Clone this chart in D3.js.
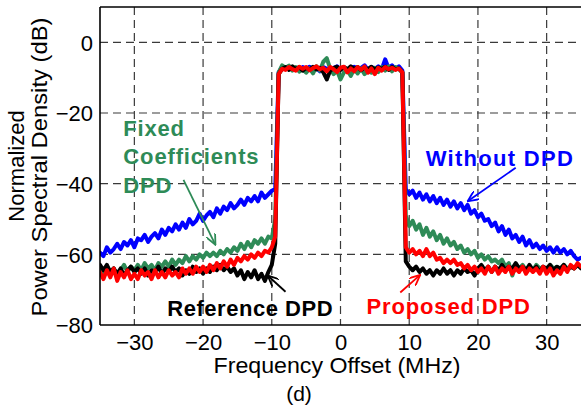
<!DOCTYPE html>
<html>
<head>
<meta charset="utf-8">
<script src="https://cdn.jsdelivr.net/npm/d3@7"></script>
<style>
  html, body { margin: 0; padding: 0; background: #fff; }
  svg { display: block; }
  text { font-family: "Liberation Sans", Arial, Helvetica, sans-serif; }
</style>
</head>
<body>
<svg id="chart" width="581" height="407"></svg>
<script>
// ---------------- data ----------------
// frequency grid (MHz), 0.5 MHz spacing from -35 to 35
const freqStart = -35, freqStep = 0.5;

const xTicks = [-30, -20, -10, 0, 10, 20, 30];
const yTicks = [-80, -60, -40, -20, 0];

// Without DPD (blue)
const blueLower = [-59.5,-60.5,-58,-59.5,-58.5,-57,-58.5,-56.5,-57.5,-56,
  -58,-55.5,-56,-54.5,-56.5,-55,-54,-55.5,-53,-54.5,
  -52.5,-53.5,-51.5,-53,-51,-52.5,-50,-51.5,-50.5,-48.5,
  -50.5,-49,-48,-49.5,-47,-48.5,-46.5,-47.5,-45.5,-47,
  -46,-44.5,-46,-44,-45,-43.5,-45,-42.5,-44,-43,
  -42,-41.5];
const blueBand = [-8.5,-7,-7.5,-6.8,-7.8,-7.2,-8,-7,-7.6,-6.9,
  -7.8,-7.3,-8.2,-7,-7.5,-8,-7.2,-6.8,-7.6,-7.1,
  -8,-7.4,-6.9,-7.7,-7.2,-6.5,-7.8,-7,-7.5,-6.8,
  -7.6,-4.8,-7.3,-6.5,-7.6,-6.8,-8];
const blueUpper = [-41.5,-43,-42,-44,-42.5,-44.5,-43,-45,-43.5,-45.5,
  -44,-46,-44.5,-46.5,-45,-47,-45.5,-47.5,-46,-48.5,
  -47.5,-49.5,-48.5,-50.5,-50,-52,-51,-53.5,-52,-54.5,
  -53,-55.5,-54.5,-56.5,-55,-57.5,-56,-58,-57,-58.5,
  -57.5,-59,-58,-59.5,-58,-59.5,-58.5,-60,-59,-60.5,
  -61.5,-61];

// Fixed Coefficients DPD (green)
const greenLower = [-64,-65.5,-63.5,-65,-64,-66,-64.5,-63,-65,-63.5,
  -64.5,-63,-64.5,-62.5,-64,-63,-64.5,-62.5,-63.5,-62,
  -63.5,-61.5,-63,-61.5,-62.5,-60.5,-62,-60.5,-61.5,-60,
  -61,-59.5,-60.5,-59.5,-60.5,-59,-60,-58.5,-59.5,-58,
  -59,-57,-58.5,-56.5,-58,-56,-57,-55.5,-57,-55,
  -55.5,-50];
const greenBand = [-8.5,-6.5,-7.2,-6.6,-8,-7,-8.3,-7.5,-8.6,-7.4,
  -8.8,-6.8,-8,-5.5,-4.5,-7.5,-9,-8,-10.5,-8.5,
  -7.8,-9.5,-7.6,-8.8,-7.4,-9,-7.8,-8.6,-7.2,-8.4,
  -7,-8,-6.8,-8.2,-7,-7.6,-8.5];
const greenUpper = [-49,-52,-50.5,-53,-51.5,-54.5,-52.5,-55,-53.5,-56,
  -54.5,-57,-55.5,-57.5,-56.5,-58.5,-57.5,-59.5,-58.5,-60,
  -59,-61,-60,-61.5,-60.5,-62,-61.5,-62.5,-61.5,-63.5,
  -62.5,-66,-63,-64,-63,-64.5,-63.5,-64.5,-63,-64,
  -63.5,-64.5,-63,-64,-63.5,-64.5,-63,-64,-63.5,-64,
  -63,-63.5];

// Reference DPD (black)
const blackLower = [-63,-64.5,-63,-65,-64,-65.5,-64,-66,-64.5,-63.5,
  -65,-64,-65.5,-64,-66,-64.5,-65,-63.5,-65.5,-64,
  -65,-63.5,-65,-64,-66,-64.5,-65.5,-63.5,-65,-64,
  -65.5,-64,-65,-63.5,-64.5,-63,-64.5,-63.5,-65,-64,
  -66,-64.5,-67,-65,-66.5,-64.5,-67,-65.5,-67.5,-65,
  -63,-57];
const blackBand = [-9,-7.5,-7,-7.8,-6.8,-7.6,-7,-8,-7.2,-7.8,
  -6.9,-7.7,-7.2,-8.5,-10.5,-8,-7.3,-6.9,-7.8,-7,
  -7.6,-6.8,-7.5,-7,-7.9,-7.2,-7.6,-6.9,-7.7,-7.1,
  -7.5,-6.9,-7.8,-7,-7.6,-7.4,-8.5];
const blackUpper = [-62,-63.5,-64.5,-63.5,-65,-64,-65.5,-64.5,-66,-64.5,
  -65.5,-64,-65.5,-64.5,-66,-64.5,-65.5,-64,-65,-64.5,
  -66,-64,-63,-64.5,-63.5,-65,-63.5,-64.5,-63,-64.5,
  -63.5,-64,-62.5,-64,-63.5,-64.5,-63,-64.5,-63.5,-65,
  -63.5,-64,-63,-64.5,-63.5,-64,-63,-64.5,-63.5,-64,
  -63,-64];

// Proposed DPD (red)
const redLower = [-65,-67,-64.5,-66.5,-64,-67.5,-65,-66.5,-64.5,-67,
  -65.5,-67,-64.5,-66,-65,-67,-64.5,-66.5,-65,-66.5,
  -64.5,-66,-65,-66.5,-64,-65.5,-64,-65.5,-63.5,-65,
  -63.5,-65,-63,-64.5,-62.5,-64,-62,-63.5,-61.5,-63,
  -61,-62,-60.5,-61.5,-60,-61,-59.5,-60.5,-59,-59.5,
  -58,-55];
const redBand = [-9,-7.5,-7.8,-7,-7.6,-8,-6.9,-7.5,-7,-7.9,
  -7.3,-6.8,-7.6,-7.2,-8.2,-7,-7.6,-8.4,-7.2,-6.9,
  -8.5,-7.4,-8.2,-7,-7.8,-6.8,-8.6,-7.4,-9,-7.2,
  -8,-7,-7.6,-7.2,-7.8,-7.4,-8.5];
const redUpper = [-58,-59.5,-58.5,-60,-59,-60.5,-58.5,-60.5,-59.5,-61.5,
  -61,-62.5,-61.5,-62.5,-61.5,-63,-62.5,-64,-63,-64.5,
  -63.5,-65,-64,-65.5,-63.5,-65,-63.5,-65.5,-64,-65,
  -63.5,-65.5,-64,-65,-63.5,-65.5,-64,-65,-64,-65.5,
  -63.5,-65.5,-64,-66,-64.5,-65.5,-63.5,-65,-63,-64,
  -62.5,-63.5];

const seriesNames = ["Without DPD", "Fixed Coefficients DPD", "Reference DPD", "Proposed DPD"];
const seriesColors = ["#0000ff", "#2e8b57", "#000000", "#ff0000"];

// ---------------- chart ----------------
const svg = d3.select("#chart");
const x = d3.scaleLinear().domain([-35, 35]).range([100, 581]);
const y = d3.scaleLinear().domain([-80, 10]).range([325, 7]);

const series = [
  blueLower.concat(blueBand, blueUpper),
  greenLower.concat(greenBand, greenUpper),
  blackLower.concat(blackBand, blackUpper),
  redLower.concat(redBand, redUpper)
].map((vals, i) => ({
  name: seriesNames[i],
  color: seriesColors[i],
  points: vals.map((v, j) => [freqStart + j * freqStep, v])
}));

svg.append("defs").append("clipPath").attr("id", "plotclip")
  .append("rect").attr("x", 100).attr("y", 7).attr("width", 481).attr("height", 318);

// grid
const grid = svg.append("g").attr("stroke", "#3a3a3a").attr("stroke-width", 1.2)
  .attr("stroke-dasharray", "8,5");
grid.selectAll("line.v").data(xTicks).join("line").attr("class", "v")
  .attr("x1", d => x(d)).attr("x2", d => x(d)).attr("y1", y(10)).attr("y2", y(-80));
grid.selectAll("line.h").data(yTicks.filter(d => d > -80)).join("line").attr("class", "h")
  .attr("y1", d => y(d)).attr("y2", d => y(d)).attr("x1", x(-35)).attr("x2", x(35));

// series
const line = d3.line().x(d => x(d[0])).y(d => y(d[1]));
svg.append("g").attr("clip-path", "url(#plotclip)")
  .selectAll("path").data(series).join("path")
  .attr("d", d => line(d.points))
  .attr("fill", "none").attr("stroke", d => d.color)
  .attr("stroke-width", 4).attr("stroke-linejoin", "round").attr("stroke-linecap", "round");

// axes frame
const frame = svg.append("g").attr("stroke", "#000").attr("stroke-width", 1.6);
frame.append("line").attr("x1", x(-35)).attr("x2", x(-35)).attr("y1", y(10)).attr("y2", y(-80));
frame.append("line").attr("x1", x(-35)).attr("x2", x(35)).attr("y1", y(-80)).attr("y2", y(-80));
frame.append("line").attr("x1", x(-35)).attr("x2", x(35)).attr("y1", y(10)).attr("y2", y(10));

// axes labels via d3 axes
const xAxis = d3.axisBottom(x).tickValues(xTicks).tickSize(0).tickPadding(0).tickFormat(d3.format("d"));
const gx = svg.append("g").attr("transform", `translate(0,${y(-80)})`).call(xAxis);
gx.select(".domain").remove();
gx.selectAll("text").attr("font-size", 22).attr("fill", "#000")
  .attr("font-family", "Liberation Sans, Arial, sans-serif").attr("dy", null).attr("y", 25);

const yAxis = d3.axisLeft(y).tickValues(yTicks).tickSize(0).tickPadding(7).tickFormat(d3.format("d"));
const gy = svg.append("g").attr("transform", `translate(${x(-35)},0)`).call(yAxis);
gy.select(".domain").remove();
gy.selectAll("text").attr("font-size", 22).attr("fill", "#000")
  .attr("font-family", "Liberation Sans, Arial, sans-serif").attr("dy", "0.36em");

// axis titles
svg.append("text").attr("x", 337).attr("y", 373).attr("text-anchor", "middle")
  .attr("font-size", 22).attr("textLength", 247).attr("lengthAdjust", "spacingAndGlyphs")
  .text("Frequency Offset (MHz)");
svg.append("text").attr("transform", "translate(24,166) rotate(-90)").attr("text-anchor", "middle")
  .attr("font-size", 22).text("Normalized");
svg.append("text").attr("transform", "translate(47,167) rotate(-90)").attr("text-anchor", "middle")
  .attr("font-size", 22).attr("textLength", 299).attr("lengthAdjust", "spacingAndGlyphs")
  .text("Power Spectral Density (dB)");

// caption
svg.append("text").attr("x", 299).attr("y", 401).attr("text-anchor", "middle")
  .attr("font-family", "Liberation Serif, Times New Roman, serif").attr("font-size", 21)
  .text("(d)");

// annotations (data coordinates)
const defs = svg.select("defs");
seriesColors.forEach((c, i) => {
  defs.append("marker").attr("id", "arr" + i).attr("viewBox", "0 0 12 10")
    .attr("refX", 11).attr("refY", 5).attr("markerWidth", 12).attr("markerHeight", 10)
    .attr("markerUnits", "userSpaceOnUse").attr("orient", "auto")
    .append("path").attr("d", "M0,0 L11,5 L0,10").attr("fill", "none")
    .attr("stroke", c).attr("stroke-width", 1.8);
});

const annotations = [
  { s: 0, lines: ["Without DPD"], tx: 12.4, ty: -34.9, len: [148], from: [25.5, -35.5], to: [18.5, -45] },
  { s: 1, lines: ["Fixed", "Coefficients", "DPD"], tx: -31.6, ty: -26.4, len: [null, 136, null], from: [-22.85, -38.9], to: [-18.2, -57.3] },
  { s: 2, lines: ["Reference DPD"], tx: -25.2, ty: -77.4, len: [166], from: [-8.0, -70.6], to: [-10.6, -66] },
  { s: 3, lines: ["Proposed DPD"], tx: 3.8, ty: -76.8, len: [164], from: [8.7, -70.8], to: [11.6, -65.8] }
];
annotations.forEach(a => {
  const col = seriesColors[a.s];
  svg.append("line").attr("x1", x(a.from[0])).attr("y1", y(a.from[1]))
    .attr("x2", x(a.to[0])).attr("y2", y(a.to[1]))
    .attr("stroke", col).attr("stroke-width", 1.8).attr("marker-end", `url(#arr${a.s})`);
  a.lines.forEach((t, k) => {
    const el = svg.append("text").attr("x", x(a.tx)).attr("y", y(a.ty) + k * 28.5)
      .attr("font-size", 22).attr("font-weight", "bold").attr("fill", col)
      .attr("letter-spacing", "0.8px").text(t);
    if (a.len[k]) el.attr("textLength", a.len[k]).attr("lengthAdjust", "spacing");
  });
});
</script>
</body>
</html>
